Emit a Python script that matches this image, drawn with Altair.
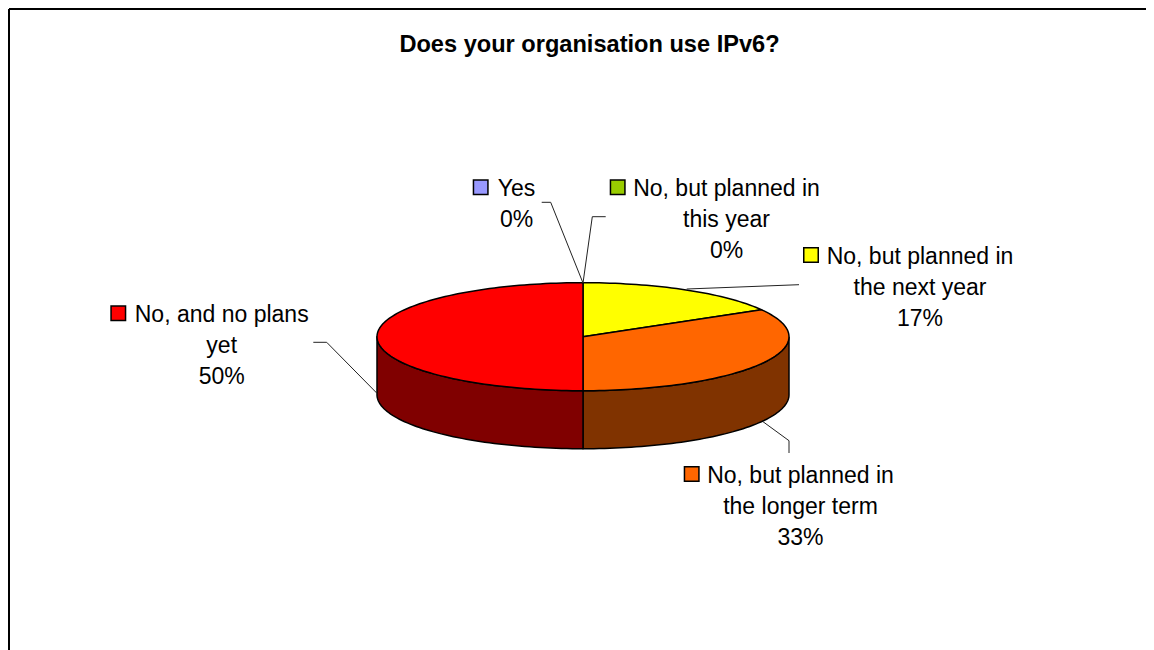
import math
import pandas as pd
import altair as alt

TITLE = "Does your organisation use IPv6?"
categories = ["Yes", "No, but planned in this year", "No, but planned in the next year",
              "No, but planned in the longer term", "No, and no plans yet"]
values = [0, 0, 1, 2, 3]
colors = ["#9999ff", "#99cc00", "#ffff00", "#ff6600", "#ff0000"]
side_colors = ["#4c4c80", "#4c6600", "#808000", "#803300", "#800000"]
label_lines = [
    ["Yes", "0%"],
    ["No, but planned in", "this year", "0%"],
    ["No, but planned in", "the next year", "17%"],
    ["No, but planned in", "the longer term", "33%"],
    ["No, and no plans", "yet", "50%"],
]

W, H = 1138, 642
OFF = 8
CX, CY, RX, RY, DEPTH = 583 - OFF, 336.7 - OFF, 206, 54, 58
FONT = "Liberation Sans"
LABEL_SIZE = 23
LINE_H = 30.9

def pt(deg, dy=0):
    t = math.radians(deg)
    return CX + RX * math.sin(t), CY - RY * math.cos(t) + dy

def arc(a, b, dy=0, step=1.5):
    n = max(1, int(abs(b - a) / step))
    return [pt(a + (b - a) * i / n, dy) for i in range(n + 1)]

rows = []
def add_poly(name, fill, pts):
    pts = list(pts) + [pts[0]]
    for i, (x, y) in enumerate(pts):
        rows.append({"poly": name, "fill": fill, "i": i, "x": x, "y": y})

total = sum(values)
a = 0.0
for cat, v, c, sc in zip(categories, values, colors, side_colors):
    b = a + 360.0 * v / total
    lo, hi = max(a, 90), min(b, 270)
    if v > 0 and hi > lo:
        add_poly(cat + " side", sc, arc(lo, hi) + arc(hi, lo, DEPTH))
    a = b
a = 0.0
for cat, v, c in zip(categories, values, colors):
    b = a + 360.0 * v / total
    if v > 0:
        add_poly(cat + " top", c, [(CX, CY)] + arc(a, b))
    a = b
poly = pd.DataFrame(rows)

xs = alt.Scale(domain=[0, W], nice=False, zero=False, padding=0)
ys = alt.Scale(domain=[H, 0], nice=False, zero=False, padding=0)
X = alt.X("x:Q", scale=xs, axis=None)
Y = alt.Y("y:Q", scale=ys, axis=None)

slices = alt.Chart(poly).mark_line(stroke="#000000", strokeWidth=1.5, strokeJoin="round").encode(
    x=X, y=Y, order="i:Q", detail="poly:N", fill=alt.Fill("fill:N", scale=None)
)

# leader lines, in page pixels
leaders = [
    [(583, 283), (550.7, 202.3), (541.7, 202.3)],
    [(583, 283), (592.3, 216.7), (605.7, 216.7)],
    [(686.7, 289), (799, 284.7)],
    [(763, 421.7), (789, 440.7), (789, 453)],
    [(376.7, 393), (326.7, 342.3), (313.3, 342.3)],
]
lrows = []
for k, pts in enumerate(leaders):
    for i, (x, y) in enumerate(pts):
        lrows.append({"k": k, "i": i, "x": x - OFF, "y": y - OFF})
lead = alt.Chart(pd.DataFrame(lrows)).mark_line(stroke="#222222", strokeWidth=1).encode(
    x=X, y=Y, order="i:Q", detail="k:N"
)

# label centres and first-line baselines
anchors = [(516.5, 196), (726.5, 196), (920, 263.7), (800.5, 482.7), (221.7, 322)]
trows, krows = [], []
for k, (lines, (ax, ay)) in enumerate(zip(label_lines, anchors)):
    for j, t in enumerate(lines):
        trows.append({"t": t, "x": ax - OFF, "y": ay + j * LINE_H - OFF})
key_pos = [(480.7, 187.3), (617.7, 187.3), (811, 255), (691.7, 474), (118.3, 313.3)]
for (x, y), c in zip(key_pos, colors):
    krows.append({"x": x - OFF, "y": y - OFF, "c": c})

text = alt.Chart(pd.DataFrame(trows)).mark_text(
    font=FONT, fontSize=LABEL_SIZE, color="#000000", align="center", baseline="alphabetic"
).encode(x=X, y=Y, text="t:N")
keys = alt.Chart(pd.DataFrame(krows)).mark_point(
    shape="square", size=210, filled=True, stroke="#000000", strokeWidth=1.5, opacity=1
).encode(x=X, y=Y, fill=alt.Fill("c:N", scale=None))

title = alt.Chart(pd.DataFrame([{"t": TITLE, "x": 589.5 - OFF, "y": 52 - OFF}])).mark_text(
    font=FONT, fontSize=23.6, fontWeight="bold", color="#000000", align="center", baseline="alphabetic"
).encode(x=X, y=Y, text="t:N")

frame = alt.Chart(pd.DataFrame([{"x": 1, "y": 1, "i": 0}, {"x": 1, "y": H, "i": 1}])).mark_line(
    stroke="#000000", strokeWidth=2
).encode(x=X, y=Y, order="i:Q")
frame2 = alt.Chart(pd.DataFrame([{"x": 1, "y": 1, "i": 0}, {"x": W, "y": 1, "i": 1}])).mark_line(
    stroke="#000000", strokeWidth=2
).encode(x=X, y=Y, order="i:Q")

chart = alt.layer(frame, frame2, slices, lead, text, keys, title).properties(
    width=W, height=H, padding=0, background="#ffffff",
    autosize=alt.AutoSizeParams(type="none")
).configure_view(stroke=None)

chart.save("out.html", embed_options={"renderer": "svg", "actions": False})
